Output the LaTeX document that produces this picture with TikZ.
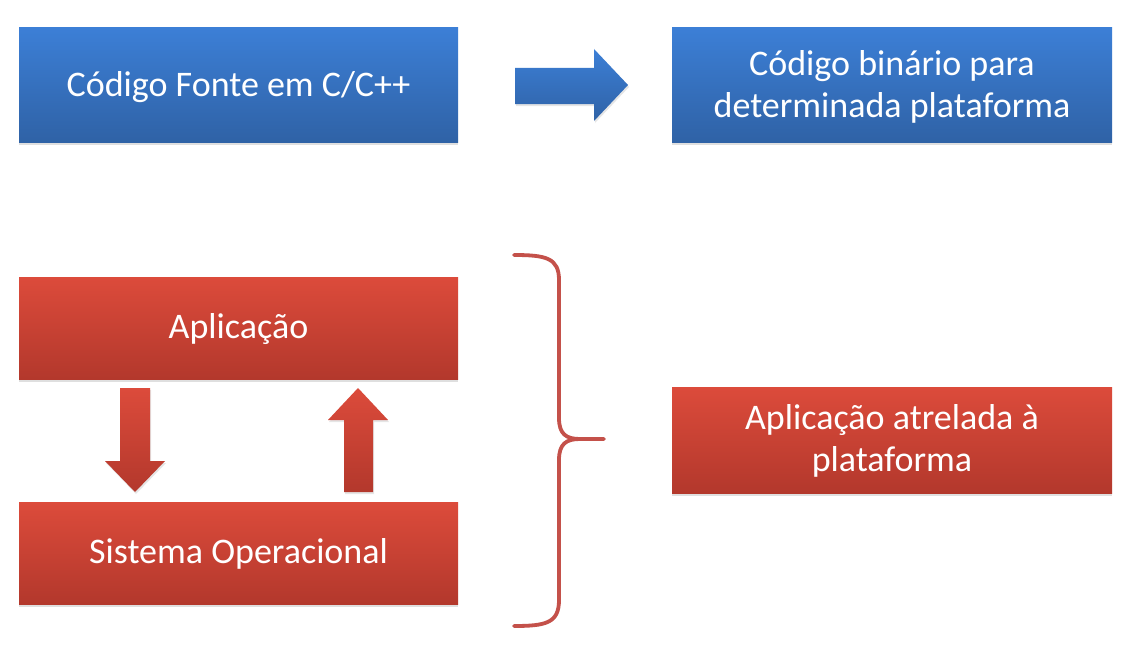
\documentclass[tikz,border=0pt]{standalone}
\usepackage{fontspec}
\setmainfont{Carlito}
\usetikzlibrary{shadows}
\definecolor{bluetop}{HTML}{3C7FD6}
\definecolor{bluebot}{HTML}{2F62A6}
\definecolor{redtop}{HTML}{DC4B3B}
\definecolor{redbot}{HTML}{B3382C}
\definecolor{bracecol}{HTML}{C4514A}
\tikzset{
  box/.style={rectangle, inner sep=0pt, text=white, align=center,
    font=\fontsize{36}{42}\selectfont,
    drop shadow={opacity=0.25, shadow xshift=0pt, shadow yshift=-3pt}},
  bluebox/.style={box, top color=bluetop, bottom color=bluebot},
  redbox/.style={box, top color=redtop, bottom color=redbot},
  bluearrow/.style={top color=bluetop, bottom color=bluebot, drop shadow={opacity=0.2, shadow xshift=1pt, shadow yshift=-2pt}},
  redarrow/.style={top color=redtop, bottom color=redbot, drop shadow={opacity=0.2, shadow xshift=1pt, shadow yshift=-2pt}},
  bracestyle/.style={draw=bracecol, line width=3.8pt, line cap=round, line join=round},
  lbl/.style={text=white, align=center, inner sep=0pt, font=\fontsize{36}{42}\selectfont}
}
\begin{document}
\begin{tikzpicture}[x=1pt,y=-1pt]
\useasboundingbox[fill=white] (0,0) rectangle (1133,661);

\node[bluebox, minimum width=439pt, minimum height=114pt] (src) at (238.5,85) {};
\node[bluebox, minimum width=440pt, minimum height=114pt] (bin) at (892,85) {};
\node[redbox, minimum width=439pt, minimum height=102pt] (app) at (238.5,328) {};
\node[redbox, minimum width=439pt, minimum height=102pt] (so) at (238.5,553) {};
\node[redbox, minimum width=440pt, minimum height=106pt] (res) at (892,440) {};

\node[lbl] (srct) at ([yshift=-2pt]src.center) {Código Fonte em C/C++};
\node[lbl] (bint) at ([yshift=-2pt]bin.center) {Código binário para\\determinada plataforma};
\node[lbl] (appt) at ([yshift=-1pt]app.center) {Aplicação};
\node[lbl] (sot) at ([yshift=-1pt]so.center) {Sistema Operacional};
\node[lbl] (rest) at ([yshift=-1pt]res.center) {Aplicação atrelada à\\plataforma};

% blue block arrow
\shade[bluearrow] (515,68) -- (594,68) -- (594,49) -- (628,85) -- (594,121) -- (594,104) -- (515,104) -- cycle;

% down arrow
\shade[redarrow] (120,388) -- (150,388) -- (150,461) -- (165,461) -- (135,492) -- (105,461) -- (120,461) -- cycle;
% up arrow
\shade[redarrow] (344,492) -- (373,492) -- (373,420) -- (388,420) -- (358,388) -- (328,420) -- (344,420) -- cycle;

% brace
\coordinate (btop) at (514,255);
\coordinate (btip) at (604,439);
\coordinate (bbot) at (514,626);
\draw[bracestyle] (btop) .. controls (546,255) and (559,258) .. (559,280)
  -- (559,418) .. controls (559,434) and (566,439) .. (580,439) -- (btip);
\draw[bracestyle] (bbot) .. controls (546,626) and (559,623) .. (559,600)
  -- (559,460) .. controls (559,444) and (566,439) .. (580,439);
\end{tikzpicture}
\end{document}
